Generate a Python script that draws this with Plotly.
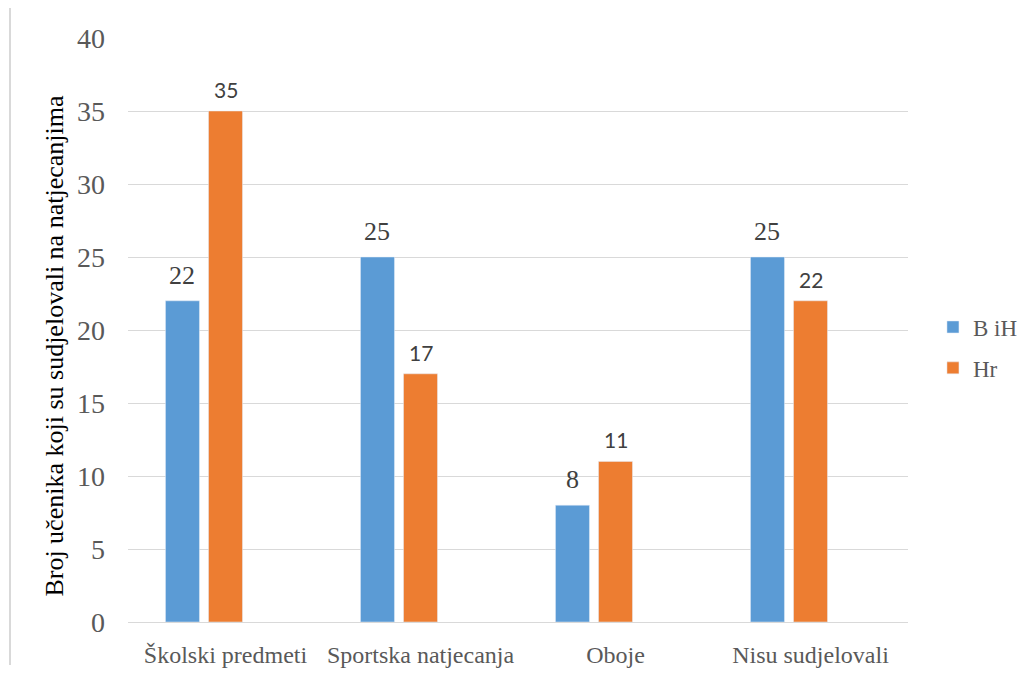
import plotly.graph_objects as go

categories = ["Školski predmeti", "Sportska natjecanja", "Oboje", "Nisu sudjelovali"]
bih_values = [22, 25, 8, 25]
hr_values = [35, 17, 11, 22]
empty_values = [None, None, None, None]
y_ticks = [0, 5, 10, 15, 20, 25, 30, 35, 40]
y_title = "Broj učenika koji su sudjelovali na natjecanjima"

serif = "Liberation Serif, Times New Roman, serif"
sans = "Lato, Carlito, Liberation Sans, sans-serif"
bargap = 0.338
n_slots = 3
slot = (1 - bargap) / n_slots

fig = go.Figure()
fig.add_trace(go.Bar(name="B iH", x=categories, y=bih_values, marker_color="#5B9BD5",
                     legendgroup="a"))
fig.add_trace(go.Bar(name="Hr", x=categories, y=hr_values, marker_color="#ED7D31",
                     legendgroup="b"))
fig.add_trace(go.Bar(name="", x=categories, y=empty_values, showlegend=False,
                     marker_color="rgba(0,0,0,0)", hoverinfo="skip"))

annotations = []
for i, v in enumerate(bih_values):
    annotations.append(dict(x=i - slot, y=v, xref="x", yref="y", text=str(v),
                            showarrow=False, yanchor="bottom", yshift=9,
                            font=dict(family=serif, size=26, color="#404040")))
for i, v in enumerate(hr_values):
    annotations.append(dict(x=i, y=v, xref="x", yref="y", text=str(v),
                            showarrow=False, yanchor="bottom", yshift=7,
                            font=dict(family=sans, size=21, color="#404040")))
annotations.append(dict(x=-0.0947, y=0.4735, xref="paper", yref="paper", text=y_title,
                        textangle=-90, showarrow=False, xanchor="center", yanchor="middle",
                        font=dict(family=serif, size=26, color="#000000")))

fig.update_layout(
    width=1028, height=675,
    barmode="group", bargap=bargap, bargroupgap=0.21,
    paper_bgcolor="white", plot_bgcolor="white",
    margin=dict(l=120, r=128, t=30, b=61, autoexpand=False),
    font=dict(family=serif, color="#595959"),
    xaxis=dict(
        tickfont=dict(family=serif, size=24, color="#595959"),
        showgrid=False, showline=True, linecolor="#D9D9D9", linewidth=1,
        ticks="", ticklabelstandoff=11, automargin=False,
    ),
    yaxis=dict(
        range=[0, 40], tickvals=y_ticks,
        tickfont=dict(family=serif, size=28, color="#595959"),
        showgrid=True, gridcolor="#D9D9D9", gridwidth=1,
        zeroline=False, showline=False, ticks="", ticklabelstandoff=22,
        automargin=False,
    ),
    legend=dict(
        x=1.032, xanchor="left", y=0.470, yanchor="middle",
        font=dict(family=serif, size=23, color="#595959"),
        itemwidth=30, traceorder="grouped", tracegroupgap=8,
    ),
    annotations=annotations,
    shapes=[dict(type="line", xref="paper", yref="paper",
                 x0=-0.1513, x1=-0.1513, y0=-0.0736, y1=1.0514,
                 line=dict(color="#D9D9D9", width=2))],
)

fig.write_html("out.html")
